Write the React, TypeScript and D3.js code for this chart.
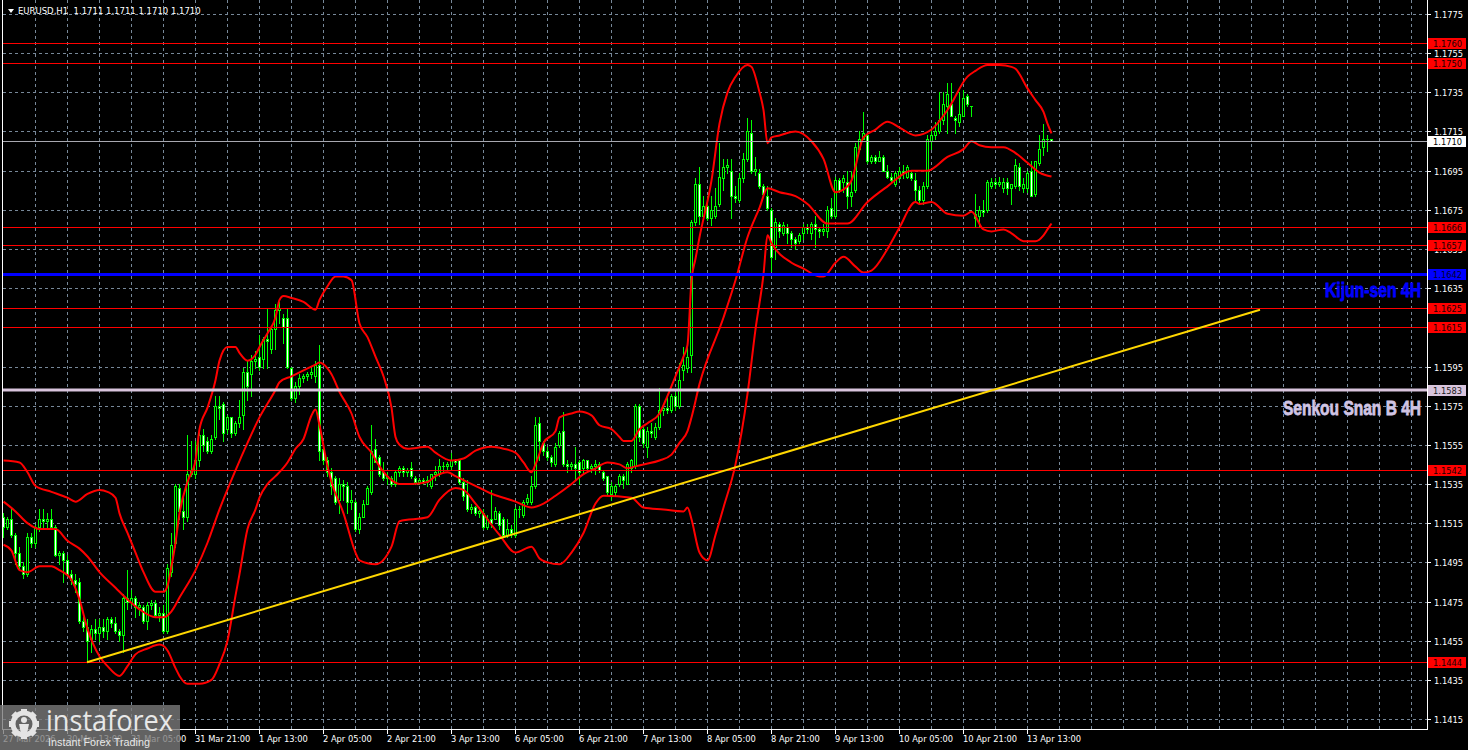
import React from "react";
import * as d3 from "d3";

// EURUSD H1 candles, index 0 = 27 Mar 21:00 : [open, high, low, close]
const ohlc: [number, number, number, number][] = [
  [1.1518,1.1520,1.1508,1.1513],[1.1513,1.1518,1.1512,1.1517],[1.1517,1.1522,1.1508,1.1509],[1.1509,1.1510,1.1494,1.1500],
  [1.1500,1.1503,1.1491,1.1493],[1.1493,1.1495,1.1487,1.1489],[1.1489,1.1510,1.1488,1.1508],[1.1508,1.1510,1.1503,1.1505],
  [1.1505,1.1514,1.1503,1.1513],[1.1513,1.1522,1.1511,1.1517],[1.1517,1.1522,1.1512,1.1516],[1.1516,1.1520,1.1512,1.1517],
  [1.1517,1.1522,1.1512,1.1513],[1.1513,1.1514,1.1498,1.1499],[1.1499,1.1501,1.1494,1.1500],[1.1500,1.1501,1.1485,1.1496],
  [1.1496,1.1499,1.1488,1.1489],[1.1489,1.1491,1.1484,1.1486],[1.1486,1.1489,1.1480,1.1484],[1.1485,1.1487,1.1464,1.1465],
  [1.1465,1.1467,1.1460,1.1462],[1.1462,1.1466,1.1444,1.1455],[1.1456,1.1463,1.1449,1.1461],[1.1461,1.1466,1.1456,1.1459],
  [1.1459,1.1466,1.1455,1.1462],[1.1462,1.1466,1.1457,1.1460],[1.1460,1.1467,1.1456,1.1466],[1.1466,1.1467,1.1462,1.1464],
  [1.1464,1.1467,1.1459,1.1460],[1.1460,1.1461,1.1455,1.1458],[1.1458,1.1479,1.1449,1.1477],[1.1477,1.1491,1.1471,1.1475],
  [1.1475,1.1481,1.1473,1.1477],[1.1477,1.1478,1.1467,1.1472],[1.1472,1.1475,1.1468,1.1473],[1.1472,1.1473,1.1464,1.1465],
  [1.1465,1.1475,1.1461,1.1473],[1.1473,1.1476,1.1471,1.1474],[1.1474,1.1476,1.1467,1.1468],[1.1468,1.1472,1.1465,1.1469],
  [1.1469,1.1473,1.1459,1.1460],[1.1460,1.1494,1.1459,1.1492],[1.1490,1.1510,1.1488,1.1504],[1.1505,1.1535,1.1503,1.1534],
  [1.1533,1.1535,1.1517,1.1521],[1.1521,1.1530,1.1512,1.1518],[1.1518,1.1560,1.1516,1.1540],[1.1540,1.1557,1.1539,1.1542],
  [1.1540,1.1557,1.1538,1.1547],[1.1547,1.1563,1.1544,1.1560],[1.1560,1.1563,1.1552,1.1555],[1.1557,1.1559,1.1551,1.1552],
  [1.1552,1.1560,1.1551,1.1558],[1.1559,1.1580,1.1558,1.1575],[1.1575,1.1580,1.1568,1.1574],[1.1576,1.1577,1.1557,1.1561],
  [1.1563,1.1570,1.1561,1.1569],[1.1569,1.1569,1.1559,1.1561],[1.1561,1.1567,1.1560,1.1566],[1.1566,1.1578,1.1564,1.1569],
  [1.1570,1.1594,1.1563,1.1592],[1.1592,1.1598,1.1578,1.1585],[1.1591,1.1601,1.1580,1.1598],[1.1598,1.1603,1.1594,1.1599],
  [1.1600,1.1611,1.1593,1.1595],[1.1599,1.1610,1.1594,1.1609],[1.1609,1.1625,1.1594,1.1608],[1.1604,1.1615,1.1602,1.1614],
  [1.1614,1.1627,1.1604,1.1624],[1.1624,1.1628,1.1617,1.1625],[1.1620,1.1622,1.1607,1.1615],[1.1620,1.1625,1.1594,1.1595],
  [1.1594,1.1595,1.1578,1.1579],[1.1579,1.1587,1.1577,1.1585],[1.1585,1.1591,1.1581,1.1589],[1.1589,1.1591,1.1587,1.1590],
  [1.1590,1.1592,1.1588,1.1591],[1.1591,1.1594,1.1589,1.1592],[1.1590,1.1598,1.1587,1.1596],[1.1596,1.1606,1.1547,1.1552],
  [1.1553,1.1555,1.1545,1.1547],[1.1547,1.1549,1.1539,1.1541],[1.1541,1.1543,1.1530,1.1534],[1.1538,1.1539,1.1525,1.1526],
  [1.1527,1.1538,1.1520,1.1535],[1.1535,1.1537,1.1527,1.1534],[1.1534,1.1536,1.1520,1.1526],[1.1526,1.1532,1.1522,1.1527],
  [1.1526,1.1527,1.1511,1.1512],[1.1512,1.1520,1.1510,1.1518],[1.1518,1.1527,1.1518,1.1525],[1.1525,1.1534,1.1525,1.1533],
  [1.1531,1.1565,1.1530,1.1552],[1.1553,1.1558,1.1546,1.1546],[1.1549,1.1550,1.1539,1.1540],[1.1541,1.1546,1.1537,1.1538],
  [1.1538,1.1541,1.1535,1.1539],[1.1538,1.1539,1.1534,1.1535],[1.1535,1.1542,1.1534,1.1541],[1.1541,1.1544,1.1539,1.1543],
  [1.1543,1.1544,1.1539,1.1541],[1.1541,1.1543,1.1539,1.1542],[1.1543,1.1546,1.1538,1.1539],[1.1538,1.1539,1.1535,1.1536],
  [1.1536,1.1538,1.1535,1.1537],[1.1537,1.1538,1.1535,1.1536],[1.1536,1.1539,1.1534,1.1537],[1.1534,1.1540,1.1533,1.1540],
  [1.1540,1.1544,1.1537,1.1541],[1.1540,1.1548,1.1539,1.1544],[1.1544,1.1546,1.1541,1.1544],[1.1544,1.1546,1.1542,1.1545],
  [1.1544,1.1551,1.1542,1.1547],[1.1547,1.1548,1.1545,1.1546],[1.1547,1.1547,1.1535,1.1536],[1.1536,1.1538,1.1527,1.1529],
  [1.1530,1.1537,1.1521,1.1522],[1.1522,1.1525,1.1520,1.1523],[1.1523,1.1524,1.1519,1.1520],[1.1520,1.1523,1.1518,1.1521],
  [1.1520,1.1522,1.1512,1.1513],[1.1513,1.1519,1.1512,1.1517],[1.1517,1.1532,1.1513,1.1515],[1.1517,1.1523,1.1517,1.1521],
  [1.1520,1.1521,1.1512,1.1514],[1.1517,1.1518,1.1508,1.1509],[1.1509,1.1517,1.1508,1.1512],[1.1512,1.1514,1.1508,1.1510],
  [1.1509,1.1523,1.1508,1.1522],[1.1522,1.1524,1.1518,1.1522],[1.1519,1.1527,1.1518,1.1526],[1.1526,1.1530,1.1525,1.1528],
  [1.1526,1.1539,1.1525,1.1534],[1.1534,1.1569,1.1533,1.1565],[1.1566,1.1569,1.1547,1.1557],[1.1556,1.1557,1.1550,1.1552],
  [1.1552,1.1554,1.1547,1.1549],[1.1549,1.1550,1.1544,1.1546],[1.1545,1.1556,1.1544,1.1554],[1.1555,1.1562,1.1554,1.1561],
  [1.1562,1.1572,1.1544,1.1545],[1.1545,1.1547,1.1541,1.1544],[1.1544,1.1546,1.1542,1.1545],[1.1545,1.1554,1.1537,1.1543],
  [1.1546,1.1547,1.1535,1.1541],[1.1543,1.1548,1.1540,1.1547],[1.1547,1.1547,1.1541,1.1543],[1.1543,1.1545,1.1541,1.1544],
  [1.1544,1.1547,1.1540,1.1545],[1.1545,1.1546,1.1541,1.1542],[1.1541,1.1542,1.1537,1.1538],[1.1539,1.1539,1.1530,1.1531],
  [1.1530,1.1536,1.1527,1.1534],[1.1531,1.1535,1.1529,1.1534],[1.1535,1.1540,1.1534,1.1539],[1.1539,1.1540,1.1533,1.1537],
  [1.1535,1.1546,1.1535,1.1545],[1.1543,1.1548,1.1541,1.1547],[1.1544,1.1576,1.1543,1.1575],[1.1575,1.1576,1.1557,1.1559],
  [1.1563,1.1564,1.1554,1.1556],[1.1554,1.1564,1.1549,1.1562],[1.1562,1.1566,1.1559,1.1561],[1.1559,1.1566,1.1558,1.1564],
  [1.1564,1.1584,1.1563,1.1573],[1.1573,1.1576,1.1570,1.1574],[1.1574,1.1580,1.1571,1.1573],[1.1573,1.1581,1.1572,1.1580],
  [1.1580,1.1582,1.1573,1.1575],[1.1575,1.1597,1.1574,1.1588],[1.1593,1.1605,1.1588,1.1596],[1.1594,1.1606,1.1592,1.1600],
  [1.1601,1.1670,1.1592,1.1669],[1.1669,1.1691,1.1667,1.1688],[1.1688,1.1697,1.1668,1.1672],[1.1672,1.1682,1.1670,1.1677],
  [1.1677,1.1682,1.1670,1.1671],[1.1671,1.1682,1.1667,1.1675],[1.1672,1.1686,1.1671,1.1677],[1.1678,1.1709,1.1677,1.1692],
  [1.1691,1.1701,1.1685,1.1697],[1.1697,1.1701,1.1694,1.1698],[1.1695,1.1701,1.1671,1.1682],[1.1682,1.1687,1.1679,1.1681],
  [1.1680,1.1694,1.1679,1.1691],[1.1691,1.1704,1.1689,1.1701],[1.1701,1.1722,1.1700,1.1715],[1.1714,1.1721,1.1694,1.1695],
  [1.1695,1.1702,1.1693,1.1696],[1.1694,1.1696,1.1686,1.1687],[1.1687,1.1688,1.1682,1.1683],[1.1682,1.1687,1.1675,1.1676],
  [1.1675,1.1676,1.1644,1.1651],[1.1656,1.1671,1.1650,1.1669],[1.1668,1.1669,1.1661,1.1664],[1.1663,1.1669,1.1662,1.1667],
  [1.1666,1.1668,1.1658,1.1663],[1.1663,1.1664,1.1656,1.1660],[1.1660,1.1661,1.1655,1.1658],[1.1659,1.1663,1.1658,1.1662],
  [1.1663,1.1668,1.1660,1.1666],[1.1666,1.1668,1.1663,1.1665],[1.1663,1.1669,1.1660,1.1668],[1.1668,1.1672,1.1656,1.1665],
  [1.1665,1.1666,1.1661,1.1664],[1.1664,1.1668,1.1662,1.1665],[1.1664,1.1677,1.1661,1.1675],[1.1676,1.1681,1.1671,1.1672],
  [1.1672,1.1692,1.1671,1.1690],[1.1690,1.1691,1.1684,1.1685],[1.1689,1.1693,1.1684,1.1691],[1.1689,1.1695,1.1676,1.1682],
  [1.1682,1.1695,1.1677,1.1684],[1.1685,1.1709,1.1684,1.1707],[1.1706,1.1715,1.1705,1.1711],[1.1711,1.1725,1.1711,1.1714],
  [1.1713,1.1714,1.1699,1.1700],[1.1700,1.1703,1.1699,1.1702],[1.1702,1.1703,1.1699,1.1700],[1.1700,1.1705,1.1700,1.1702],
  [1.1702,1.1703,1.1695,1.1695],[1.1695,1.1698,1.1691,1.1692],[1.1692,1.1694,1.1689,1.1690],[1.1688,1.1695,1.1687,1.1694],
  [1.1691,1.1697,1.1690,1.1695],[1.1695,1.1698,1.1691,1.1694],[1.1692,1.1698,1.1691,1.1697],[1.1694,1.1695,1.1690,1.1691],
  [1.1690,1.1694,1.1680,1.1685],[1.1685,1.1687,1.1679,1.1680],[1.1680,1.1689,1.1678,1.1687],[1.1687,1.1713,1.1686,1.1711],
  [1.1710,1.1717,1.1706,1.1713],[1.1713,1.1720,1.1711,1.1715],[1.1715,1.1735,1.1714,1.1721],[1.1721,1.1735,1.1719,1.1729],
  [1.1728,1.1740,1.1714,1.1734],[1.1729,1.1740,1.1723,1.1723],[1.1722,1.1723,1.1714,1.1721],[1.1720,1.1735,1.1718,1.1724],
  [1.1723,1.1736,1.1723,1.1732],[1.1733,1.1734,1.1728,1.1729],[1.1728,1.1728,1.1723,1.1728],[1.1673,1.1683,1.1666,1.1671],
  [1.1672,1.1677,1.1666,1.1675],[1.1675,1.1680,1.1672,1.1674],[1.1675,1.1690,1.1674,1.1689],[1.1687,1.1691,1.1686,1.1689],
  [1.1689,1.1691,1.1686,1.1688],[1.1688,1.1692,1.1687,1.1689],[1.1686,1.1691,1.1684,1.1689],[1.1689,1.1691,1.1683,1.1686],
  [1.1686,1.1688,1.1678,1.1688],[1.1687,1.1701,1.1686,1.1698],[1.1697,1.1699,1.1685,1.1687],[1.1686,1.1691,1.1684,1.1688],
  [1.1686,1.1695,1.1684,1.1694],[1.1695,1.1700,1.1682,1.1682],[1.1683,1.1700,1.1682,1.1700],[1.1699,1.1713,1.1698,1.1706],
  [1.1707,1.1719,1.1703,1.1711],[1.1711,1.1713,1.1705,1.1711],[1.1711,1.1711,1.1710,1.1710],
];

// Bollinger bands: [bar index, price]
const bbUpper: [number, number][] = [
  [0,1.1547],[4,1.1546],[6,1.1541],[8,1.1534],[12,1.1531],[16,1.1528],[18,1.1526],[21,1.1530],[24,1.1532],[26,1.1531],
  [28,1.1528],[29,1.1520],[31,1.1510],[33,1.1500],[35,1.1490],[38,1.1480],[40,1.1480],[41,1.1483],[42,1.1493],[43,1.1505],
  [44,1.1520],[46,1.1536],[48,1.1547],[49,1.1563],[51,1.1574],[53,1.1588],[54,1.1598],[56,1.1605],[58,1.1605],[59,1.1602],
  [61,1.1598],[63,1.1601],[64,1.1605],[66,1.1612],[68,1.1620],[69,1.1629],[70,1.1631],[72,1.1630],[75,1.1628],[78,1.1624],
  [79,1.1629],[81,1.1636],[83,1.1641],[85,1.1641],[87,1.1639],[89,1.1617],[91,1.1610],[93,1.1600],[95,1.1590],[97,1.1574],
  [98,1.1559],[99,1.1555],[101,1.1553],[106,1.1554],[108,1.1551],[112,1.1547],[115,1.1548],[118,1.1552],[122,1.1554],
  [125,1.1553],[128,1.1551],[130,1.1546],[132,1.1541],[133,1.1545],[135,1.1556],[138,1.1562],[139,1.1569],[142,1.1571],
  [144,1.1572],[147,1.1570],[149,1.1565],[152,1.1563],[154,1.1559],[155,1.1557],[157,1.1557],[159,1.1563],[161,1.1566],
  [164,1.1571],[166,1.1580],[168,1.1590],[170,1.1600],[171,1.1606],[172,1.1639],[173,1.1650],[174,1.1661],[177,1.1690],
  [179,1.1719],[181,1.1735],[183,1.1743],[186,1.1749],[187,1.1748],[189,1.1735],[190,1.1726],[191,1.1709],[192,1.1712],
  [194,1.1713],[198,1.1715],[202,1.1710],[205,1.1701],[208,1.1684],[211,1.1687],[212,1.1690],[215,1.1712],[218,1.1716],
  [221,1.1720],[224,1.1717],[228,1.1713],[232,1.1716],[236,1.1726],[241,1.1743],[243,1.1746],[246,1.1749],[249,1.1749],
  [252,1.1748],[253,1.1747],[256,1.1737],[258,1.1731],[260,1.1725],[261,1.1719],[262,1.1714],
];
const bbMiddle: [number, number][] = [
  [0,1.1526],[3,1.1521],[6,1.1515],[9,1.1512],[13,1.1512],[16,1.1506],[19,1.1502],[21,1.1498],[24,1.1490],[28,1.1482],
  [31,1.1476],[34,1.1471],[38,1.1467],[40,1.1467],[42,1.1470],[44,1.1477],[48,1.1491],[51,1.1505],[54,1.1522],[58,1.1542],
  [61,1.1556],[64,1.1569],[68,1.1583],[69,1.1587],[72,1.1590],[74,1.1592],[78,1.1596],[79,1.1597],[81,1.1594],[82,1.1591],
  [84,1.1582],[87,1.1571],[89,1.1559],[92,1.1551],[94,1.1544],[97,1.1537],[99,1.1535],[102,1.1535],[106,1.1536],
  [108,1.1539],[111,1.1541],[113,1.1539],[116,1.1536],[119,1.1533],[122,1.1530],[125,1.1528],[128,1.1526],[132,1.1523],
  [135,1.1525],[138,1.1529],[142,1.1535],[145,1.1540],[148,1.1543],[151,1.1546],[154,1.1545],[156,1.1543],[158,1.1544],
  [160,1.1545],[164,1.1547],[167,1.1550],[169,1.1556],[171,1.1562],[172,1.1569],[174,1.1586],[180,1.1620],[183,1.1639],
  [186,1.1661],[189,1.1676],[191,1.1686],[194,1.1684],[198,1.1682],[201,1.1678],[206,1.1668],[211,1.1668],[216,1.1679],
  [221,1.1687],[227,1.1695],[231,1.1695],[236,1.1702],[240,1.1706],[242,1.1710],[244,1.1708],[247,1.1707],[250,1.1707],
  [253,1.1704],[256,1.1699],[259,1.1694],[262,1.1692],
];
const bbLower: [number, number][] = [
  [0,1.1504],[2,1.1501],[4,1.1491],[6,1.1490],[9,1.1493],[12,1.1493],[14,1.1491],[17,1.1486],[19,1.1476],[21,1.1461],
  [24,1.1447],[26,1.1442],[29,1.1437],[31,1.1442],[33,1.1448],[36,1.1451],[39,1.1453],[41,1.1450],[43,1.1441],[44,1.1437],
  [46,1.1433],[49,1.1433],[52,1.1435],[54,1.1443],[56,1.1455],[58,1.1478],[59,1.1489],[61,1.1512],[63,1.1522],[64,1.1528],
  [66,1.1535],[68,1.1539],[71,1.1546],[73,1.1553],[75,1.1558],[77,1.1570],[78,1.1573],[79,1.1565],[81,1.1544],[82,1.1536],
  [85,1.1520],[88,1.1500],[89,1.1496],[93,1.1494],[97,1.1503],[99,1.1516],[106,1.1518],[109,1.1527],[113,1.1533],
  [115,1.1532],[118,1.1525],[124,1.1509],[128,1.1500],[132,1.1503],[134,1.1497],[136,1.1495],[139,1.1494],[142,1.1500],
  [145,1.1510],[148,1.1525],[150,1.1529],[157,1.1528],[160,1.1523],[165,1.1522],[170,1.1521],[171,1.1523],[172,1.1517],
  [174,1.1500],[176,1.1496],[178,1.1509],[180,1.1523],[183,1.1545],[186,1.1581],[188,1.1614],[190,1.1642],[191,1.1662],
  [192,1.1658],[197,1.1648],[200,1.1645],[204,1.1641],[205,1.1641],[208,1.1648],[210,1.1651],[213,1.1646],[215,1.1643],
  [217,1.1644],[221,1.1655],[224,1.1666],[228,1.1679],[229,1.1678],[232,1.1679],[236,1.1673],[240,1.1672],[242,1.1674],
  [245,1.1665],[247,1.1664],[250,1.1665],[252,1.1663],[255,1.1659],[258,1.1659],[260,1.1662],[261,1.1665],[262,1.1668],
];

const timeLabels: [number, string][] = [
  [0, "27 Mar 2026"], [16, "30 Mar 13:00"], [32, "31 Mar 05:00"], [48, "31 Mar 21:00"],
  [64, "1 Apr 13:00"], [80, "2 Apr 05:00"], [96, "2 Apr 21:00"], [112, "3 Apr 13:00"],
  [128, "6 Apr 05:00"], [144, "6 Apr 21:00"], [160, "7 Apr 13:00"], [176, "8 Apr 05:00"],
  [192, "8 Apr 21:00"], [208, "9 Apr 13:00"], [224, "10 Apr 05:00"], [240, "10 Apr 21:00"],
  [256, "13 Apr 13:00"],
];
const priceTicks = [1.1775, 1.1755, 1.1735, 1.1715, 1.1695, 1.1675, 1.1655, 1.1635, 1.1615, 1.1595,
  1.1575, 1.1555, 1.1535, 1.1515, 1.1495, 1.1475, 1.1455, 1.1435, 1.1415];
const redLevels = [1.1760, 1.1750, 1.1666, 1.1657, 1.1625, 1.1615, 1.1542, 1.1444];
const kijunLevel = 1.1642;
const senkouLevel = 1.1583;
const lastPrice = 1.1710;
const trendLine: [number, number][] = [[21, 1.1444], [314.25, 1.1624]];
const header = "EURUSD,H1  1.1711 1.1711 1.1710 1.1710";

export default function App() {
  const W = 1468, H = 750;
  const plotLeft = 3, plotRight = 1427, plotBottom = 729;
  const x = d3.scaleLinear().domain([0, 356]).range([3, 1427]);
  const y = d3.scaleLinear().domain([1.1415, 1.1775]).range([719, 14]);
  const ry = (p: number) => Math.round(y(p));
  const font = "'DejaVu Sans', Verdana, sans-serif";
  const gridBars = d3.range(8, 357, 8);
  const band = d3.line<[number, number]>()
    .x(d => x(d[0]) + 0.5)
    .y(d => y(d[1]))
    .curve(d3.curveMonotoneX);
  const lime = "#00FF00";

  const levelLabel = (p: number, bg: string, fg: string) => (
    <g key={"lab" + p}>
      <rect x={1428} y={ry(p) - 5} width={38} height={11} fill={bg} />
      <text x={1433} y={ry(p) + 4} fill={fg} fontSize={8.3} fontFamily={font}>{p.toFixed(4)}</text>
    </g>
  );

  const teeth = d3.range(0, 360, 45);

  return (
    <svg width={W} height={H} style={{ position: "fixed", left: 0, top: 0, display: "block" }}>
      <rect width={W} height={H} fill="#000" />
      {/* grid */}
      <g stroke="#778899" strokeDasharray="3,3" strokeWidth={1}>
        {priceTicks.map(p => (
          <line key={"h" + p} x1={plotLeft} x2={plotRight} y1={ry(p) + 0.5} y2={ry(p) + 0.5} />
        ))}
        {gridBars.map(i => (
          <line key={"v" + i} x1={Math.round(x(i)) + 0.5} x2={Math.round(x(i)) + 0.5} y1={0} y2={plotBottom} />
        ))}
      </g>

      {/* candles */}
      <g>
        {ohlc.map(([o, h, l, c], i) => {
          const cx = Math.round(x(i));
          const yh = ry(Math.max(h, o, c));
          const yl = ry(Math.min(l, o, c));
          const yt = ry(Math.max(o, c));
          const yb = ry(Math.min(o, c));
          return (
            <g key={"c" + i}>
              <rect x={cx} y={yh} width={1} height={yl - yh + 1} fill={lime} />
              {yb - yt < 2 ? (
                <rect x={cx - 1} y={yt} width={3} height={yb - yt + 1} fill={lime} />
              ) : (
                <rect x={cx - 0.5} y={yt + 0.5} width={2} height={yb - yt}
                  fill={c >= o ? "#000" : "#fff"} stroke={lime} strokeWidth={1} />
              )}
            </g>
          );
        })}
      </g>

      {/* Bollinger bands */}
      <g fill="none" stroke="#FF0000" strokeWidth={2}>
        <path d={band(bbUpper) || ""} />
        <path d={band(bbMiddle) || ""} />
        <path d={band(bbLower) || ""} />
      </g>

      {/* horizontal levels */}
      <g>
        {redLevels.map(p => (
          <line key={"r" + p} x1={plotLeft} x2={plotRight} y1={ry(p) + 0.5} y2={ry(p) + 0.5} stroke="#FF0000" strokeWidth={1} />
        ))}
        <line x1={plotLeft} x2={plotRight} y1={ry(lastPrice) + 0.5} y2={ry(lastPrice) + 0.5} stroke="#A8A8B0" strokeWidth={1} />
        <line x1={plotLeft} x2={plotRight} y1={y(kijunLevel)} y2={y(kijunLevel)} stroke="#0000FF" strokeWidth={3} />
        <line x1={plotLeft} x2={plotRight} y1={y(senkouLevel)} y2={y(senkouLevel)} stroke="#D8C4DC" strokeWidth={3} />
      </g>

      {/* trend line */}
      <line x1={x(trendLine[0][0])} y1={y(trendLine[0][1])} x2={x(trendLine[1][0])} y2={y(trendLine[1][1])}
        stroke="#FFD700" strokeWidth={2} />

      {/* object texts */}
      <text x={1325} y={297} fill="#0000FF" stroke="#0000FF" strokeWidth={0.8} fontSize={21} fontWeight="bold"
        fontFamily="'Liberation Sans Narrow', 'Liberation Sans', Arial, sans-serif"
        textLength={96} lengthAdjust="spacingAndGlyphs">Kijun-sen 4H</text>
      <text x={1283} y={415} fill="#D0C4E4" stroke="#D0C4E4" strokeWidth={0.8} fontSize={21} fontWeight="bold"
        fontFamily="'Liberation Sans Narrow', 'Liberation Sans', Arial, sans-serif"
        textLength={138} lengthAdjust="spacingAndGlyphs">Senkou Snan B 4H</text>

      {/* frame */}
      <g stroke="#fff" strokeWidth={1}>
        <line x1={2.5} x2={2.5} y1={0} y2={plotBottom + 1} />
        <line x1={plotRight + 0.5} x2={plotRight + 0.5} y1={0} y2={plotBottom + 1} />
        <line x1={2} x2={plotRight + 1} y1={plotBottom + 0.5} y2={plotBottom + 0.5} />
      </g>

      {/* price axis */}
      <g fontFamily={font} fontSize={8.3} fill="#fff">
        {priceTicks.map(p => (
          <g key={"pt" + p}>
            <line x1={1428} x2={1431} y1={ry(p) + 0.5} y2={ry(p) + 0.5} stroke="#fff" />
            <text x={1434} y={ry(p) + 4}>{p.toFixed(4)}</text>
          </g>
        ))}
      </g>
      {redLevels.map(p => levelLabel(p, "#FF0000", "#200000"))}
      {levelLabel(kijunLevel, "#0000FF", "#000030")}
      {levelLabel(senkouLevel, "#D8C4DC", "#202020")}
      {levelLabel(lastPrice, "#FFFFFF", "#000000")}

      {/* time axis */}
      <g fontFamily={font} fontSize={8.3} fill="#fff">
        {timeLabels.map(([i, lab]) => {
          const tx = Math.round(x(i));
          return (
            <g key={"tl" + i}>
              <line x1={tx + 0.5} x2={tx + 0.5} y1={plotBottom + 1} y2={plotBottom + 5} stroke="#fff" />
              <text x={tx} y={742}>{lab}</text>
            </g>
          );
        })}
      </g>

      {/* header */}
      <path d="M8,9 L14,9 L11,13 Z" fill="#fff" />
      <text x={18} y={14} fill="#fff" fontSize={8.5} fontFamily={font} style={{ whiteSpace: "pre" }}>{header}</text>

      {/* watermark logo */}
      <g>
        <rect x={0} y={705} width={180} height={45} fill="#7a7a7a" opacity={0.8} />
        <g transform="translate(24,724)" fill="#e4e4e4">
          {teeth.map(a => (
            <rect key={"t" + a} x={-3} y={-15} width={6} height={6} transform={`rotate(${a})`} />
          ))}
          <circle r={11} fill="none" stroke="#e4e4e4" strokeWidth={5} />
          <circle cx={0} cy={-4} r={3} />
          <path d="M-5,0 L5,0 L3,10 L-3,10 Z" />
        </g>
        <text x={46} y={731} fill="#e8e8e8" fontSize={30} fontFamily="'Open Sans', 'Liberation Sans', sans-serif"
          textLength={127} lengthAdjust="spacingAndGlyphs">instaforex</text>
        <text x={48} y={746} fill="#e8e8e8" fontSize={11} fontFamily="'Liberation Sans', sans-serif"
          textLength={102} lengthAdjust="spacingAndGlyphs">Instant Forex Trading</text>
      </g>
    </svg>
  );
}
